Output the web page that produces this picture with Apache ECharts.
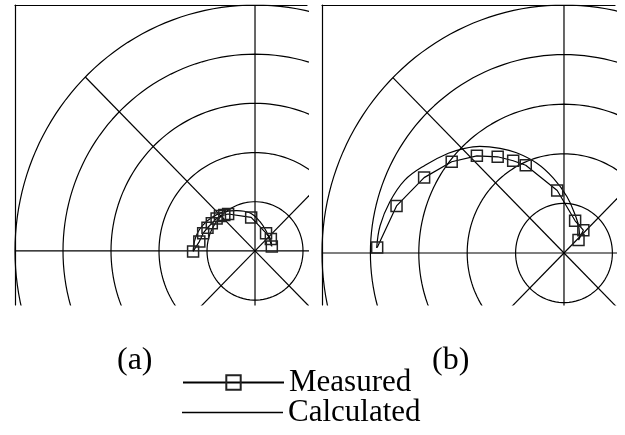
<!DOCTYPE html>
<html>
<head>
<meta charset="utf-8">
<script src="https://cdn.jsdelivr.net/npm/echarts@6/dist/echarts.min.js"></script>
<style>html,body{margin:0;padding:0;background:#fff}#c{width:625px;height:435px}</style>
</head>
<body>
<div id="c"></div>
<script>
// ---- data ----
const panelLabels = ['(a)', '(b)'];
const seriesNames = ['Measured', 'Calculated'];
const gridRadii = [1, 2, 3, 4, 5];
const spokeAngles = [0, 45, 90, 135, 180, 225, 270, 315];

const measuredA = [[-1.29,-0.01],[-1.16,0.19],[-1.08,0.36],[-0.99,0.47],[-0.90,0.56],[-0.80,0.66],[-0.73,0.71],[-0.64,0.73],[-0.56,0.75],[-0.08,0.68],[0.23,0.36],[0.33,0.24],[0.35,0.09]];
const calculatedA = [[-1.29,0.0],[-1.26,0.20],[-1.19,0.38],[-1.08,0.53],[-0.87,0.70],[-0.63,0.80],[-0.38,0.82],[-0.10,0.77],[0.10,0.60],[0.24,0.39],[0.31,0.22],[0.34,0.10]];

const measuredB = [[-3.86,0.11],[-3.46,0.95],[-2.89,1.52],[-2.32,1.84],[-1.80,1.96],[-1.37,1.94],[-1.05,1.86],[-0.79,1.77],[-0.14,1.26],[0.23,0.65],[0.40,0.46],[0.30,0.26]];
const calculatedB = [[-3.87,0.10],[-3.80,0.55],[-3.60,1.03],[-3.29,1.47],[-2.87,1.77],[-2.39,2.01],[-2.05,2.11],[-1.74,2.15],[-1.32,2.11],[-0.98,2.02],[-0.56,1.81],[-0.22,1.51],[0.06,1.14],[0.23,0.77],[0.31,0.50],[0.32,0.30]];

// ---- reference grid geometry (circles and spokes) ----
function circlePts(r){
  const p=[];
  for(let a=0;a<=360;a+=2){const t=a*Math.PI/180;p.push([r*Math.cos(t), r*Math.sin(t)]);}
  return p;
}
function spokePts(deg){
  const t=deg*Math.PI/180; const R=gridRadii[gridRadii.length-1];
  return [[0,0],[R*Math.cos(t), R*Math.sin(t)]];
}

const panels = [
  {grid:{left:15, top:5, width:292, height:300}, x:[-5,1.083], y:[-1.1,5], meas:measuredA, calc:calculatedA},
  {grid:{left:322, top:5, width:293, height:300}, x:[-5,1.054], y:[-1.048,5], meas:measuredB, calc:calculatedB}
];

const lineBlack = {color:'#000', width:1.2};
const grids=[], xAxes=[], yAxes=[], series=[];
panels.forEach((p,i)=>{
  grids.push(Object.assign({containLabel:false}, p.grid));
  xAxes.push({gridIndex:i, type:'value', min:p.x[0], max:p.x[1], position:'top',
    axisLine:{show:true, onZero:false, lineStyle:lineBlack}, axisTick:{show:false}, axisLabel:{show:false}, splitLine:{show:false}});
  yAxes.push({gridIndex:i, type:'value', min:p.y[0], max:p.y[1], position:'left',
    axisLine:{show:true, onZero:false, lineStyle:lineBlack}, axisTick:{show:false}, axisLabel:{show:false}, splitLine:{show:false}});
  gridRadii.forEach(r=>series.push({type:'line', xAxisIndex:i, yAxisIndex:i, data:circlePts(r), showSymbol:false, symbol:'none', silent:true, clip:true, lineStyle:lineBlack, z:1}));
  spokeAngles.forEach(a=>series.push({type:'line', xAxisIndex:i, yAxisIndex:i, data:spokePts(a), showSymbol:false, symbol:'none', silent:true, clip:true, lineStyle:lineBlack, z:1}));
  series.push({name:seriesNames[1], type:'line', xAxisIndex:i, yAxisIndex:i, data:p.calc, smooth:0.4, symbol:'none', showSymbol:false, clip:true, lineStyle:{color:'#000', width:1.2}, itemStyle:{color:'#000'}, z:3});
  series.push({name:seriesNames[0], type:'line', xAxisIndex:i, yAxisIndex:i, data:p.meas, symbol:'rect', symbolSize:11, showSymbol:true, clip:true,
    lineStyle:{color:'#000', width:1.2}, itemStyle:{color:'rgba(255,255,255,0)', borderColor:'#222', borderWidth:1.5}, z:4});
});

const txt = {fontFamily:'Liberation Serif', fontSize:31, color:'#000'};
const chart = echarts.init(document.getElementById('c'), null, {renderer:'canvas'});
chart.setOption({
  animation:false,
  backgroundColor:'#fff',
  grid:grids, xAxis:xAxes, yAxis:yAxes, series:series,
  title:[
    {text:panelLabels[0], left:117, top:345, padding:0, textStyle:{fontFamily:'Liberation Serif', fontSize:32, fontWeight:'normal', color:'#000'}},
    {text:panelLabels[1], left:432, top:345, padding:0, textStyle:{fontFamily:'Liberation Serif', fontSize:32, fontWeight:'normal', color:'#000'}}
  ],
  legend:[
    {data:[{name:seriesNames[0]}], orient:'vertical', left:182, top:367, itemWidth:101, itemHeight:18, padding:0, selectedMode:false, textStyle:txt},
    {data:[{name:seriesNames[1], icon:'rect', itemStyle:{color:'#000', borderWidth:0}}], orient:'vertical', left:182, top:397, itemWidth:101, itemHeight:1.3, padding:0, selectedMode:false, textStyle:txt}
  ]
});
</script>
</body>
</html>
